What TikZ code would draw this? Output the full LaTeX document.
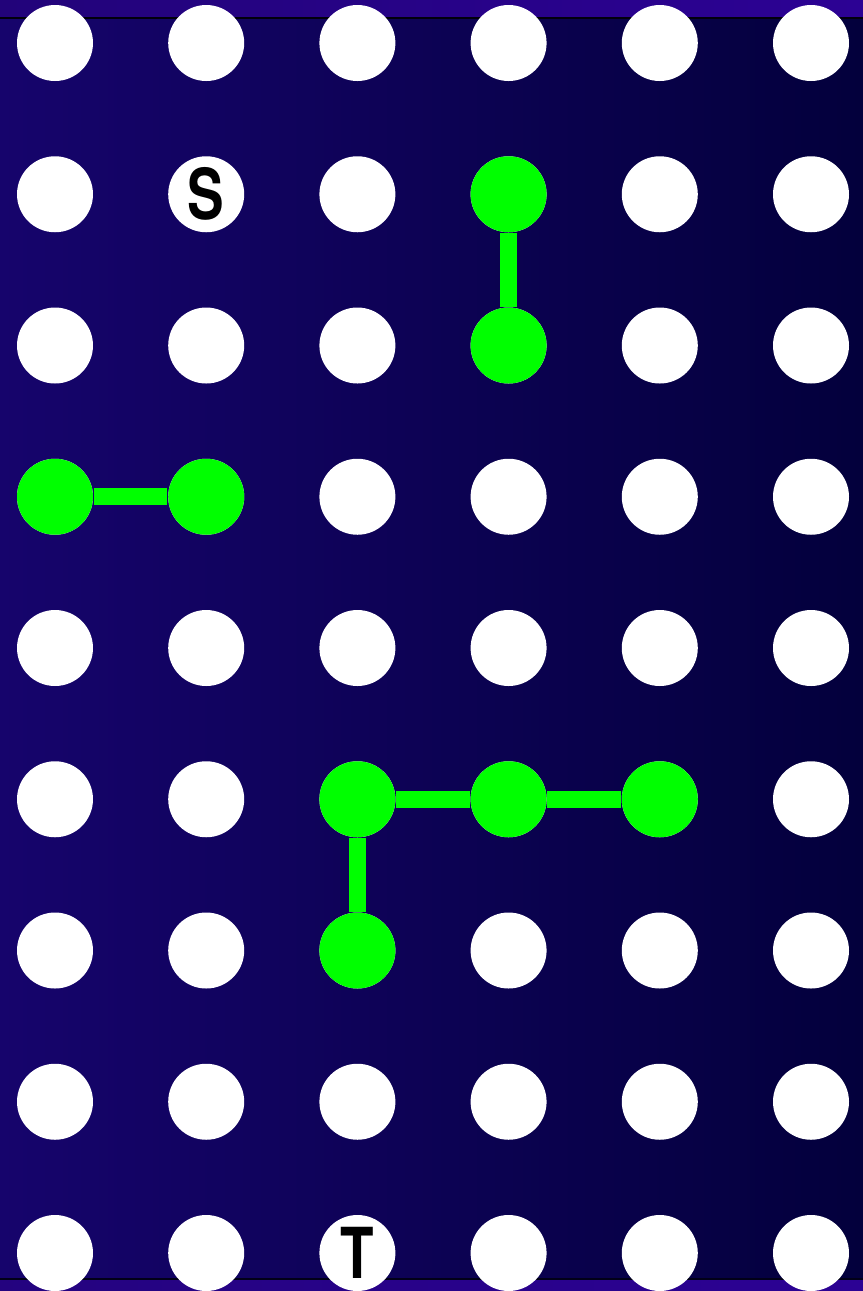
\documentclass[tikz,border=0pt]{standalone}
\usepackage{fontspec}
\setsansfont{TeX Gyre Heros}
\usepackage{tikz}
\usepackage{xcolor}
\definecolor{bgleft}{RGB}{22,4,108}
\definecolor{bgright}{RGB}{3,0,60}
\definecolor{bandleft}{RGB}{34,3,122}
\definecolor{bandright}{RGB}{44,2,148}
\definecolor{pathgreen}{RGB}{0,255,0}
\tikzset{
  dot/.style={circle,fill=white,inner sep=0pt,minimum size=0.76cm},
  hit/.style={dot,fill=pathgreen},
  link/.style={pathgreen,line width=0.17cm},
  tag/.style={font=\sffamily\bfseries\fontsize{20}{20}\selectfont,text=black,xscale=0.78}
}

\begin{document}
\begin{tikzpicture}[x=0.1mm,y=-0.1mm]
\useasboundingbox (0,0) rectangle (863,1291);
\shade[left color=bgleft,right color=bgright] (0,0) rectangle (863,1291);
\shade[left color=bandleft,right color=bandright] (0,0) rectangle (863,17);
\fill[black!80!bgright] (0,17) rectangle (863,19);
\shade[left color=bandleft!80!bandright,right color=bandright] (0,1279) rectangle (863,1291);
\fill[black!60!bgright] (0,1278) rectangle (863,1279.5);
\foreach \r in {1,...,9}
  \foreach \c in {1,...,6}
    \node[dot] (c-\r-\c) at ({55+151.2*(\c-1)},{43+151.25*(\r-1)}) {};
\node[hit] at (c-2-4) {};
\node[hit] at (c-3-4) {};
\node[hit] at (c-4-1) {};
\node[hit] at (c-4-2) {};
\node[hit] at (c-6-3) {};
\node[hit] at (c-6-4) {};
\node[hit] at (c-6-5) {};
\node[hit] at (c-7-3) {};
\draw[link] (c-2-4) -- (c-3-4);
\draw[link] (c-4-1) -- (c-4-2);
\draw[link] (c-6-3) -- (c-6-4) -- (c-6-5);
\draw[link] (c-6-3) -- (c-7-3);
\node[tag] at (c-2-2) {S};
\node[tag] at (c-9-3) {T};
\end{tikzpicture}
\end{document}
